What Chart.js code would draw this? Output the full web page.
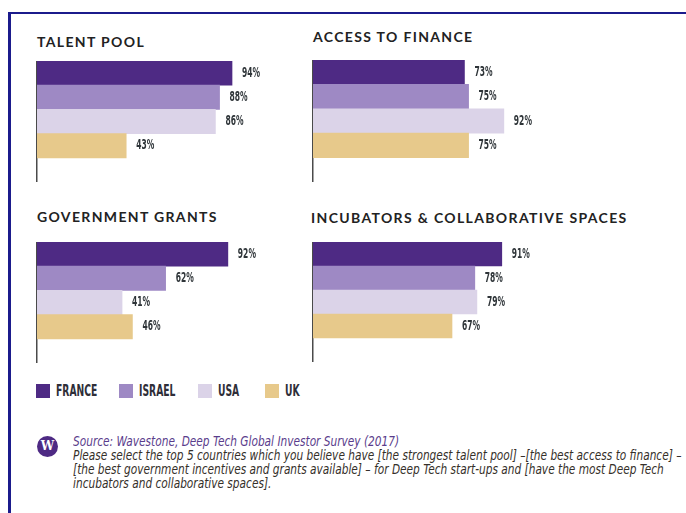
<!DOCTYPE html>
<html lang="en">
<head>
  <meta charset="UTF-8">
  <title>Deep Tech - country strengths</title>
  <script src="https://cdn.jsdelivr.net/npm/chart.js"></script>
  <style>
    html, body { margin: 0; overflow: hidden; }
    body { background: #fff; width: 686px; height: 513px; position: relative; font-family: Lato, "Open Sans", sans-serif; }
    .frame { position: absolute; left: 8px; top: 12px; width: 678px; height: 501px; border-top: 2px solid #1b1b8c; border-left: 3px solid #1b1b8c; box-sizing: border-box; }
    .title { position: absolute; font-weight: bold; font-size: 14px; letter-spacing: 1.35px; color: #222; white-space: nowrap; line-height: 1; }
    .box { position: absolute; width: 280px; }
    .sw { position: absolute; top: 384px; width: 14px; height: 14px; }
    .tx { position: absolute; top: 381px; font-family: "DejaVu Sans Condensed", sans-serif; font-weight: bold; font-size: 16px; line-height: 20px; color: #2e2e38; transform: scaleX(0.64); transform-origin: left center; white-space: nowrap; }
    .logo { position: absolute; left: 37px; top: 436px; width: 21px; height: 21px; border-radius: 50%; background: #4e2a84; color: #fff; font: bold 12px "DejaVu Serif", serif; text-align: center; line-height: 21px; }
    .note { position: absolute; left: 73px; top: 434px; font-family: "DejaVu Sans Condensed", sans-serif; font-style: italic; font-size: 14px; line-height: 14px; color: #35302a; white-space: nowrap; transform: scaleX(0.84); transform-origin: left top; }
    .note .src { color: #5a3d8c; }
  </style>
</head>
<body>
  <div class="frame"></div>

  <div class="title" style="left:37px; top:35px">TALENT POOL</div>
  <div class="title" style="left:313px; top:30px">ACCESS TO FINANCE</div>
  <div class="title" style="left:37px; top:210px">GOVERNMENT GRANTS</div>
  <div class="title" style="left:311px; top:211px">INCUBATORS &amp; COLLABORATIVE SPACES</div>

  <div class="box" style="left:35px; top:61px; height:121px"><canvas id="talent"></canvas></div>
  <div class="box" style="left:311px; top:60px; height:122px"><canvas id="finance"></canvas></div>
  <div class="box" style="left:35px; top:242px; height:121px"><canvas id="grants"></canvas></div>
  <div class="box" style="left:311px; top:242px; height:120px"><canvas id="incub"></canvas></div>

  <div id="legend"></div>

  <div class="logo">W</div>
  <div class="note">
    <span class="src">Source: Wavestone, Deep Tech Global Investor Survey (2017)</span><br>
    Please select the top 5 countries which you believe have [the strongest talent pool] –[the best access to finance] –<br>
    [the best government incentives and grants available] – for Deep Tech start-ups and [have the most Deep Tech<br>
    incubators and collaborative spaces].
  </div>

  <script>
    const countries = ["FRANCE", "ISRAEL", "USA", "UK"];
    const colors = ["#4e2a84", "#9e89c4", "#dbd3e8", "#e7c98b"];

    const talentPool = [94, 88, 86, 43];
    const accessFinance = [73, 75, 92, 75];
    const govGrants = [92, 62, 41, 46];
    const incubators = [91, 78, 79, 67];

    // value labels right of each bar, in a narrow face
    const valueLabels = {
      id: 'valueLabels',
      afterDatasetsDraw(chart) {
        const ctx = chart.ctx;
        const meta = chart.getDatasetMeta(0);
        const vals = chart.data.datasets[0].data;
        ctx.save();
        ctx.fillStyle = "#2e3438";
        ctx.font = 'bold 14px "DejaVu Sans Condensed", sans-serif';
        ctx.textBaseline = 'middle';
        meta.data.forEach((bar, i) => {
          ctx.save();
          ctx.translate(bar.x + 10, bar.y);
          ctx.scale(0.6, 1);
          ctx.fillText(vals[i] + "%", 0, 0);
          ctx.restore();
        });
        ctx.restore();
      }
    };

    function makeChart(id, values) {
      new Chart(document.getElementById(id), {
        type: 'bar',
        data: {
          labels: [...countries, ""],
          datasets: [{ data: values, backgroundColor: colors, borderWidth: 0,
                       categoryPercentage: 1, barPercentage: 1 }]
        },
        options: {
          indexAxis: 'y',
          responsive: true,
          maintainAspectRatio: false,
          animation: false,
          layout: { padding: { left: 2, right: 0, top: 0, bottom: 0 } },
          scales: {
            x: { display: false, min: 0, max: 134 },
            y: {
              grid: { display: false, drawTicks: false, tickLength: 0 },
              ticks: { display: false },
              border: { display: true, color: "#4a4a4a", width: 1.5 }
            }
          },
          plugins: { legend: { display: false }, tooltip: { enabled: false } }
        },
        plugins: [valueLabels]
      });
    }

    makeChart("talent", talentPool);
    makeChart("finance", accessFinance);
    makeChart("grants", govGrants);
    makeChart("incub", incubators);

    // legend swatches, placed as in the original
    const legend = document.getElementById("legend");
    const legendX = [36, 119, 198, 265];
    countries.forEach((c, i) => {
      const sw = document.createElement("div");
      sw.className = "sw";
      sw.style.left = legendX[i] + "px";
      sw.style.background = colors[i];
      const tx = document.createElement("div");
      tx.className = "tx";
      tx.style.left = (legendX[i] + 20) + "px";
      tx.textContent = c;
      legend.appendChild(sw);
      legend.appendChild(tx);
    });
  </script>
</body>
</html>
